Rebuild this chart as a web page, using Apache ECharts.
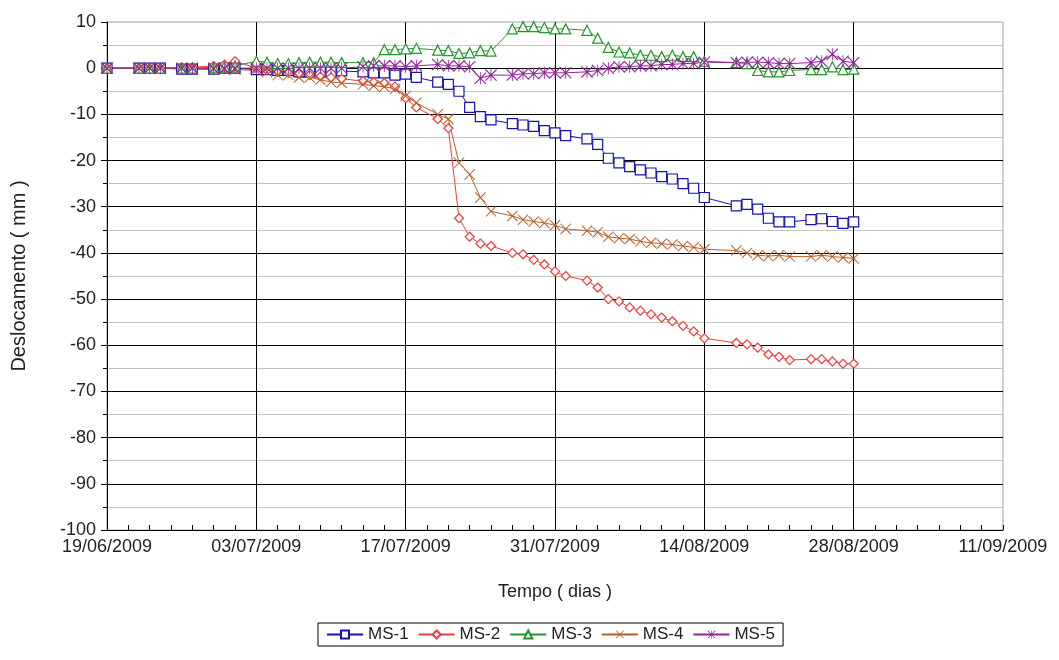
<!DOCTYPE html>
<html>
<head>
<meta charset="utf-8">
<script src="https://cdn.jsdelivr.net/npm/echarts@6/dist/echarts.min.js"></script>
<style>
  html, body { margin: 0; padding: 0; background: #fff; }
  #main { width: 1059px; height: 660px; }
</style>
</head>
<body>
<div id="main"></div>
<script>
// measurement dates
var dates = [
    '2009-06-19', '2009-06-22', '2009-06-23', '2009-06-24', '2009-06-26', '2009-06-27', '2009-06-29', '2009-06-30', '2009-07-01', '2009-07-03',
    '2009-07-04', '2009-07-05', '2009-07-06', '2009-07-07', '2009-07-08', '2009-07-09', '2009-07-10', '2009-07-11', '2009-07-13', '2009-07-14',
    '2009-07-15', '2009-07-16', '2009-07-17', '2009-07-18', '2009-07-20', '2009-07-21', '2009-07-22', '2009-07-23', '2009-07-24', '2009-07-25',
    '2009-07-27', '2009-07-28', '2009-07-29', '2009-07-30', '2009-07-31', '2009-08-01', '2009-08-03', '2009-08-04', '2009-08-05', '2009-08-06',
    '2009-08-07', '2009-08-08', '2009-08-09', '2009-08-10', '2009-08-11', '2009-08-12', '2009-08-13', '2009-08-14', '2009-08-17', '2009-08-18',
    '2009-08-19', '2009-08-20', '2009-08-21', '2009-08-22', '2009-08-24', '2009-08-25', '2009-08-26', '2009-08-27', '2009-08-28'
];

var ms1 = [
    0, 0, 0, 0, -0.2, -0.2, -0.2, 0, 0, -0.3,
    -0.3, -0.5, -0.5, -0.8, -0.8, -0.8, -0.8, -0.6, -0.8, -1,
    -1, -1.5, -1.3, -2, -3, -3.5, -5, -8.5, -10.5, -11.2,
    -12, -12.3, -12.6, -13.5, -14, -14.6, -15.3, -16.5, -19.5, -20.5,
    -21.3, -22, -22.7, -23.5, -24, -25, -26, -28, -29.8, -29.5,
    -30.5, -32.5, -33.3, -33.3, -32.8, -32.6, -33.2, -33.6, -33.3
];
var ms2 = [
    0, 0, 0, 0, 0.2, 0.2, 0.5, 0.8, 1.5, 0,
    -0.5, -0.8, -1, -1.2, -1.5, -1.8, -2, -2.3, -2.8, -3,
    -3.2, -4, -6.5, -8.5, -11, -13, -32.5, -36.5, -38, -38.5,
    -40, -40.3, -41.5, -42.5, -44, -45, -46, -47.5, -50, -50.5,
    -51.8, -52.5, -53.3, -54, -54.8, -55.8, -57, -58.5, -59.5, -59.8,
    -60.5, -62, -62.5, -63.2, -63, -63, -63.5, -64, -64
];
var ms3 = [
    0, 0, 0, 0, 0, 0, 0.2, 0.3, 0.5, 1.5,
    1.3, 1, 1, 1.2, 1.3, 1.3, 1.3, 1.2, 1.2, 1.2,
    4, 4, 4.2, 4.3, 3.9, 3.8, 3.2, 3.3, 3.8, 3.7,
    8.5, 9, 9, 8.8, 8.5, 8.5, 8.2, 6.5, 4.5, 3.5,
    3.3, 2.8, 2.8, 2.5, 2.8, 2.5, 2.5, 1.5, 1.2, 1,
    -0.5, -0.8, -0.8, -0.5, -0.3, -0.3, 0.3, -0.3, -0.2
];
var ms4 = [
    0, 0, 0, 0, 0, 0, -0.2, -0.3, -0.3, -0.5,
    -0.8, -1.5, -1.5, -2, -2, -2.5, -3, -3.2, -3.5, -3.8,
    -4, -4.5, -6, -7.5, -10, -11, -20.5, -23, -28, -31,
    -32, -32.8, -33.2, -33.5, -34, -34.8, -35.2, -35.5, -36.5, -36.8,
    -37, -37.5, -37.8, -38, -38.2, -38.5, -38.8, -39.2, -39.5, -40,
    -40.5, -40.7, -40.5, -40.8, -40.8, -40.5, -40.8, -41, -41.2
];
var ms5 = [
    0, 0, 0, 0, 0, 0, 0, 0, 0, 0,
    0, 0, 0, 0, 0, 0, 0, 0, 0.3, 0.5,
    0.5, 0.5, 0.3, 0.5, 0.8, 0.5, 0.5, 0.3, -2.2, -1.5,
    -1.5, -1.2, -1.2, -1, -1, -1, -0.8, -0.5, 0, 0.3,
    0.3, 0.5, 0.5, 0.8, 0.8, 1, 1, 1.3, 1.2, 1.3,
    1.3, 1.2, 1, 1, 1.2, 1.5, 3, 1.5, 1.2
];

var seriesNames = ['MS-1', 'MS-2', 'MS-3', 'MS-4', 'MS-5'];
var seriesColors = ['#1414b4', '#f03c3c', '#22962a', '#b4602c', '#92229a'];

var startDate = '2009-06-19';
var DAY = 86400000;

function dayOf(s) {
    return (Date.parse(s) - Date.parse(startDate)) / DAY;
}

function fmtDate(v) {
    var d = new Date(Date.parse(startDate) + v * DAY);
    var dd = ('0' + d.getUTCDate()).slice(-2);
    var mm = ('0' + (d.getUTCMonth() + 1)).slice(-2);
    return dd + '/' + mm + '/' + d.getUTCFullYear();
}

function makeData(values) {
    return values.map(function (v, i) { return [dayOf(dates[i]), v]; });
}

// X and asterisk markers as thin filled bars
var xPath = 'path://M0,1.3L1.3,0L20,18.7L18.7,20ZM18.7,0L20,1.3L1.3,20L0,18.7Z';
var starPath = 'path://M0,1.3L1.3,0L20,18.7L18.7,20ZM18.7,0L20,1.3L1.3,20L0,18.7ZM9.3,0L10.7,0L10.7,20L9.3,20Z';

var symbols = ['rect', 'diamond', 'triangle', xPath, starPath];
var sizes = [10, 9, 10, 11, 12];
var hollow = [true, true, true, false, false];

var allValues = [ms1, ms2, ms3, ms4, ms5];
var font = 'Liberation Sans';
var textColor = '#222';

var chartDom = document.getElementById('main');
var myChart = echarts.init(chartDom);
var option;

var series = seriesNames.map(function (name, k) {
    var c = seriesColors[k];
    return {
        name: name,
        type: 'line',
        data: makeData(allValues[k]),
        symbol: symbols[k],
        symbolSize: sizes[k],
        showAllSymbol: true,
        animation: false,
        lineStyle: { color: c, width: 1 },
        itemStyle: hollow[k]
            ? { color: '#fff', borderColor: c, borderWidth: 1.2 }
            : { color: c, borderWidth: 0 }
    };
});

option = {
    animation: false,
    textStyle: { fontFamily: font },
    grid: {
        left: 107, right: 56, top: 22, bottom: 130,
        show: true, borderColor: '#a0a0a0', borderWidth: 1
    },
    legend: {
        data: seriesNames,
        top: 623,
        left: 318,
        itemWidth: 36,
        itemHeight: 10,
        itemGap: 9,
        padding: [3, 8, 3, 8],
        borderColor: '#000',
        borderWidth: 1,
        borderRadius: 0,
        textStyle: { fontFamily: font, fontSize: 17, color: textColor }
    },
    xAxis: {
        type: 'value',
        min: 0,
        max: 84,
        interval: 14,
        name: 'Tempo ( dias )',
        nameLocation: 'middle',
        nameGap: 53,
        nameTextStyle: { fontFamily: font, fontSize: 18, color: textColor },
        axisLine: { onZero: false, lineStyle: { color: '#000', width: 1 } },
        axisTick: { show: true, inside: true, length: 5, lineStyle: { color: '#000' } },
        minorTick: { show: true, splitNumber: 7, length: 5, lineStyle: { color: '#000' } },
        axisLabel: {
            formatter: fmtDate, margin: 8, fontFamily: font, fontSize: 18, color: textColor,
            showMinLabel: true, showMaxLabel: true, hideOverlap: false
        },
        splitLine: { show: true, showMinLine: false, showMaxLine: false, lineStyle: { color: '#000', width: 1 } }
    },
    yAxis: {
        type: 'value',
        min: -100,
        max: 10,
        interval: 10,
        name: 'Deslocamento ( mm )',
        nameLocation: 'middle',
        nameGap: 78,
        nameTextStyle: { fontFamily: font, fontSize: 20, color: textColor },
        axisLine: { show: true, onZero: false, lineStyle: { color: '#000', width: 1 } },
        axisTick: { show: true, inside: false, length: 6, lineStyle: { color: '#000' } },
        minorTick: { show: true, splitNumber: 2, length: 4, lineStyle: { color: '#000' } },
        axisLabel: { margin: 11, fontFamily: font, fontSize: 18, color: textColor },
        splitLine: { show: true, showMinLine: false, showMaxLine: false, lineStyle: { color: '#000', width: 1 } },
        minorSplitLine: { show: true, lineStyle: { color: '#c4c4c4', width: 1 } }
    },
    series: series
};

option && myChart.setOption(option);
</script>
</body>
</html>
